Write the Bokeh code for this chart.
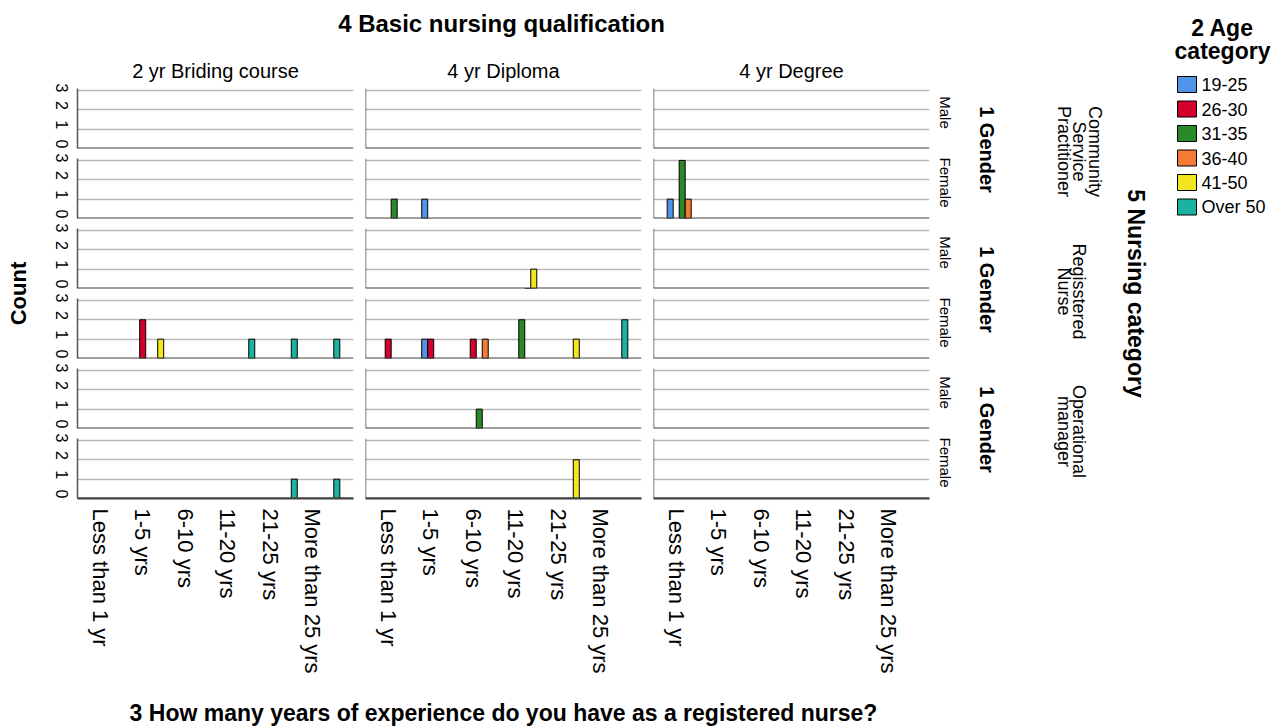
import math
from bokeh.plotting import figure
from bokeh.models import Range1d, FixedTicker, Span, Grid, ColumnDataSource
from bokeh.layouts import row, column
from bokeh.embed import file_html
from bokeh.resources import INLINE
from bokeh.core.properties import value

# ---------------- data ----------------
qualifications = ["2 yr Briding course", "4 yr Diploma", "4 yr Degree"]
nursing_categories = ["Community\nService\nPractitioner", "Regisstered\nNurse", "Operational\nmanager"]
genders = ["Male", "Female"]
experience = ["Less than 1 yr", "1-5 yrs", "6-10 yrs", "11-20 yrs", "21-25 yrs", "More than 25 yrs"]
age_groups = ["19-25", "26-30", "31-35", "36-40", "41-50", "Over 50"]
age_colors = ["#4f94e8", "#d3002e", "#2a8a2a", "#f47b35", "#f2e61e", "#19b3a0"]
y_ticks = [0, 1, 2, 3]

rec_qualification = ["4 yr Degree", "4 yr Degree", "4 yr Degree",
                     "4 yr Diploma", "4 yr Diploma",
                     "4 yr Diploma", "4 yr Diploma",
                     "4 yr Diploma", "4 yr Diploma", "4 yr Diploma", "4 yr Diploma", "4 yr Diploma",
                     "4 yr Diploma", "4 yr Diploma", "4 yr Diploma",
                     "2 yr Briding course", "2 yr Briding course", "2 yr Briding course",
                     "2 yr Briding course", "2 yr Briding course",
                     "4 yr Diploma", "4 yr Diploma",
                     "2 yr Briding course", "2 yr Briding course"]
rec_nursing = [0, 0, 0,
               0, 0,
               1, 1,
               1, 1, 1, 1, 1,
               1, 1, 1,
               1, 1, 1,
               1, 1,
               2, 2,
               2, 2]
rec_gender = ["Female", "Female", "Female",
              "Female", "Female",
              "Male", "Male",
              "Female", "Female", "Female", "Female", "Female",
              "Female", "Female", "Female",
              "Female", "Female", "Female",
              "Female", "Female",
              "Male", "Female",
              "Female", "Female"]
rec_experience = ["Less than 1 yr", "Less than 1 yr", "Less than 1 yr",
                  "Less than 1 yr", "1-5 yrs",
                  "11-20 yrs", "11-20 yrs",
                  "Less than 1 yr", "1-5 yrs", "1-5 yrs", "6-10 yrs", "6-10 yrs",
                  "11-20 yrs", "21-25 yrs", "More than 25 yrs",
                  "1-5 yrs", "1-5 yrs", "11-20 yrs",
                  "21-25 yrs", "More than 25 yrs",
                  "6-10 yrs", "21-25 yrs",
                  "21-25 yrs", "More than 25 yrs"]
rec_age = ["19-25", "31-35", "36-40",
           "31-35", "19-25",
           "36-40", "41-50",
           "26-30", "19-25", "26-30", "26-30", "36-40",
           "31-35", "41-50", "Over 50",
           "26-30", "41-50", "Over 50",
           "Over 50", "Over 50",
           "31-35", "41-50",
           "Over 50", "Over 50"]
rec_count = [1, 3, 1,
             1, 1,
             0, 1,
             1, 1, 1, 1, 1,
             2, 1, 2,
             2, 1, 1,
             1, 1,
             1, 2,
             1, 1]

# ---------------- styling ----------------
FONT = value("Liberation Sans")
BAR_W = 0.141
X_START, X_END = -0.745, 5.745
LABEL_SHIFT = 0.21
GRID_COLOR = "#b8b8b8"
AXIS_COLOR = "#555555"
BASE_COLOR = "#404040"


def canvas(w, h, x0, y0):
    p = figure(width=w, height=h, x_range=Range1d(x0, x0 + w), y_range=Range1d(y0 + h, y0),
               toolbar_location=None, output_backend="svg", min_border=0,
               x_axis_location=None, y_axis_location=None)
    p.outline_line_color = None
    p.grid.visible = False
    return p


def txt(p, x, y, s, size, bold=False, angle=0.0, align="center", baseline="middle", line_height=1.2):
    p.text(x=[x], y=[y], text=[s], text_font=FONT, text_font_size=f"{size}px",
           text_font_style="bold" if bold else "normal", angle=angle,
           text_align=align, text_baseline=baseline, text_color="black",
           text_line_height=line_height)


label_ticks = [i - LABEL_SHIFT for i in range(len(experience))]

panel_rows = []
for ni in range(len(nursing_categories)):
    for gi, g in enumerate(genders):
        r_idx = ni * 2 + gi
        bottom = r_idx == 5
        figs = []
        for qi, q in enumerate(qualifications):
            w = 319 if qi == 0 else 288
            h = 257 if bottom else 70
            p = figure(width=w, height=h, x_range=Range1d(X_START, X_END), y_range=Range1d(0, 3.1),
                       toolbar_location=None, output_backend="svg",
                       min_border_left=37 if qi == 0 else 6, min_border_right=6,
                       min_border_top=5, min_border_bottom=192 if bottom else 5,
                       x_axis_location="below" if bottom else None,
                       y_axis_location="left" if qi == 0 else None)
            p.outline_line_color = None
            p.grid.visible = False
            p.add_layout(Grid(dimension=1, ticker=FixedTicker(ticks=[1, 2, 3]),
                              grid_line_color=GRID_COLOR, grid_line_width=1.5))
            if qi == 0:
                ax = p.yaxis[0]
                ax.ticker = FixedTicker(ticks=y_ticks)
                ax.major_label_orientation = -math.pi / 2
                ax.major_tick_out = 0
                ax.major_tick_in = 0
                ax.minor_tick_out = 0
                ax.minor_tick_in = 0
                ax.major_label_standoff = 16
                ax.major_label_text_font = "Liberation Sans"
                ax.major_label_text_font_size = "16px"
                ax.major_label_text_color = "black"
                ax.axis_line_color = AXIS_COLOR
                ax.axis_line_width = 1.5
            else:
                p.add_layout(Span(location=X_START, dimension="height",
                                  line_color=AXIS_COLOR, line_width=1.5))
            if bottom:
                ax = p.xaxis[0]
                ax.ticker = FixedTicker(ticks=label_ticks)
                ax.major_label_overrides = {t: c for t, c in zip(label_ticks, experience)}
                ax.major_label_orientation = -math.pi / 2
                ax.major_tick_out = 0
                ax.major_tick_in = 0
                ax.minor_tick_out = 0
                ax.minor_tick_in = 0
                ax.major_label_standoff = 10
                ax.major_label_text_font = "Liberation Sans"
                ax.major_label_text_font_size = "22px"
                ax.major_label_text_color = "black"
                ax.axis_line_color = BASE_COLOR
                ax.axis_line_width = 2
            p.add_layout(Span(location=0, dimension="width", line_color=BASE_COLOR, line_width=2))

            xs, tops, cols = [], [], []
            for k in range(len(rec_count)):
                if rec_qualification[k] == q and rec_nursing[k] == ni and rec_gender[k] == g:
                    ai = age_groups.index(rec_age[k])
                    xs.append(experience.index(rec_experience[k]) + (ai - 2.5) * BAR_W)
                    tops.append(rec_count[k])
                    cols.append(age_colors[ai])
            src = ColumnDataSource(dict(x=xs, top=tops, color=cols))
            p.vbar(x="x", top="top", bottom=0, width=BAR_W, fill_color="color",
                   line_color="black", line_width=1, source=src)
            figs.append(p)
        panel_rows.append(row(*figs))

# header with titles
header = canvas(895, 83, 40, 0)
txt(header, 501, 23, "4 Basic nursing qualification", 24, bold=True)
for qi, q in enumerate(qualifications):
    txt(header, 215 + 288 * qi, 70, q, 20)

# x axis title
xlab = canvas(895, 36, 40, 690)
txt(xlab, 503, 712, "3 How many years of experience do you have as a registered nurse?", 23, bold=True)

# y axis title
count_fig = canvas(40, 726, 0, 0)
txt(count_fig, 18, 293, "Count", 22, bold=True, angle=math.pi / 2)

# right side labels + legend
right = canvas(352, 726, 935, 0)
for r_idx in range(6):
    txt(right, 945, 118 + 70 * r_idx - 6, genders[r_idx % 2], 15, angle=-math.pi / 2)
for ni, ncat in enumerate(nursing_categories):
    txt(right, 986, 153 + 140 * ni - 4, "1 Gender", 20, bold=True, angle=-math.pi / 2)
    txt(right, 1053, 153 + 140 * ni - 2, ncat, 18, angle=-math.pi / 2, baseline="bottom", line_height=0.78)
txt(right, 1135, 293, "5 Nursing category", 23, bold=True, angle=-math.pi / 2)
txt(right, 1222, 27, "2 Age", 23, bold=True)
txt(right, 1222, 50, "category", 23, bold=True)

# legend keys
leg_y = [84 + 24.5 * i for i in range(len(age_groups))]
right.rect(x=[1186.5] * len(age_groups), y=leg_y, width=19, height=16,
           fill_color=age_colors, line_color="black", line_width=1)
right.text(x=[1201] * len(age_groups), y=leg_y, text=age_groups, text_font=FONT,
           text_font_size="18px", text_align="left", text_baseline="middle", text_color="black")

layout = row(count_fig, column(header, *panel_rows, xlab), right)

open("out.html", "w").write(file_html(layout, INLINE))
